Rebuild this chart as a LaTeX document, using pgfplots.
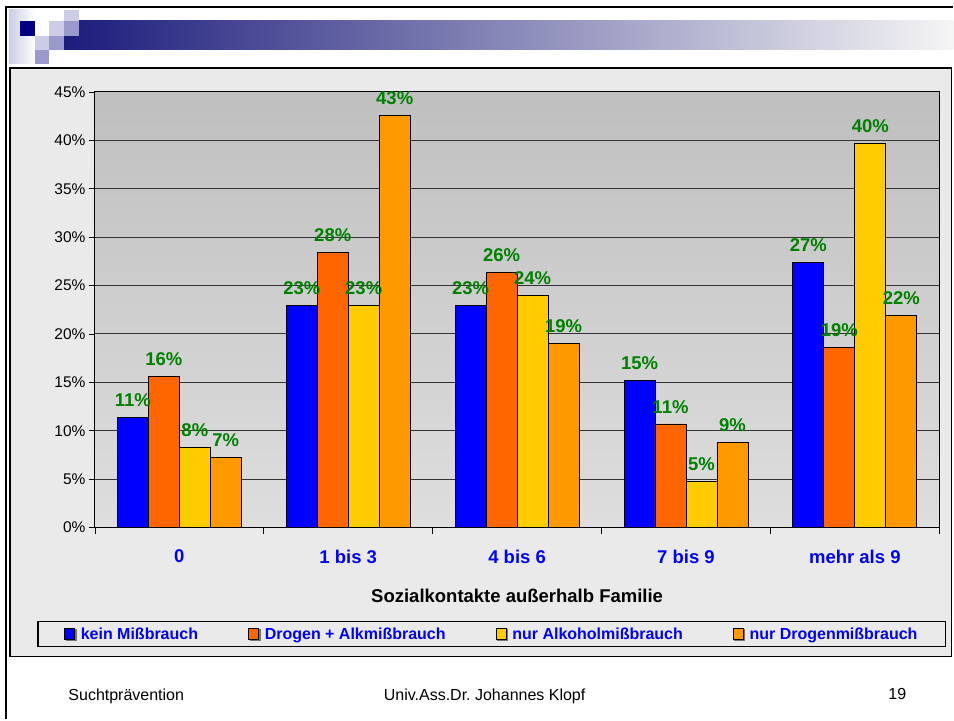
\documentclass[border=0pt]{standalone}
\usepackage{pgfplots}
\pgfplotsset{compat=1.18}
\usepackage{fontspec}
\setmainfont{Liberation Sans}
\frenchspacing
\definecolor{cBlue}{HTML}{0000FF}
\definecolor{cOrange}{HTML}{FF6600}
\definecolor{cYellow}{HTML}{FFCC00}
\definecolor{cDOrange}{HTML}{FF9900}
\definecolor{cGreen}{HTML}{008000}
\definecolor{navy}{HTML}{000080}
\definecolor{lav}{HTML}{CCCCE6}
\definecolor{midlav}{HTML}{9999CC}
\definecolor{bannerL}{HTML}{1C1C7C}
\definecolor{tex}{HTML}{EAEAEA}
\begin{document}
\begin{tikzpicture}
% page
\fill[white] (0pt,0pt) rectangle (954pt,720pt);
% banner
\shade[left color=bannerL, right color=white!96!black] (64pt,670pt) rectangle (954pt,699pt);
\shade[left color=lav, right color=white] (9pt,656pt) rectangle (35pt,710pt);
\fill[lav] (64pt,699pt) rectangle (79pt,710pt);
\fill[navy] (20pt,684pt) rectangle (35pt,699pt);
\fill[lav] (49pt,684pt) rectangle (64pt,699pt);
\fill[midlav] (64pt,684pt) rectangle (79pt,699pt);
\fill[lav] (35pt,670pt) rectangle (49pt,684pt);
\fill[midlav] (49pt,670pt) rectangle (64pt,684pt);
\fill[midlav] (35pt,656pt) rectangle (49pt,670pt);
\draw[black, line width=1.5pt] (6pt,0pt) -- (6pt,713pt) -- (954pt,713pt);
% chart frame
\filldraw[fill=tex, draw=black, line width=1.5pt] (10pt,63pt) rectangle (952pt,652pt);
\begin{axis}[
  at={(95pt,192pt)}, anchor=south west,
  width=845pt, height=436pt, scale only axis,
  ybar=0pt, bar width=31pt,
  xmin=-0.5, xmax=4.5, ymin=0, ymax=45,
  xtick pos=left, ytick pos=left,
  xtick={0,1,2,3,4},
  xticklabels={0,1 bis 3,4 bis 6,7 bis 9,mehr als 9},
  x tick style={draw=none},
  extra x ticks={-0.5,0.5,1.5,2.5,3.5,4.5},
  extra x tick labels={},
  extra x tick style={x tick style={draw=black, line width=0.8pt}, major tick length=6pt, tick align=outside, grid=none},
  xticklabel style={font=\fontsize{18.5}{20}\selectfont\bfseries, text=cBlue, anchor=center, yshift=-23pt},
  ytick={0,5,...,45},
  yticklabel={\pgfmathprintnumber{\tick}\%},
  yticklabel style={font=\fontsize{15.5}{17}\selectfont, /pgf/number format/assume math mode=true},
  y tick style={draw=black, line width=0.8pt},
  tick align=outside, major tick length=6pt,
  ymajorgrids, grid style={black!80, line width=1pt},
  axis line style={black, line width=1pt},
  axis background/.style={top color=black!25, bottom color=black!13},
  xlabel={Sozialkontakte außerhalb Familie},
  xlabel style={font=\fontsize{18.5}{20}\selectfont\bfseries, at={(0.5,0)}, anchor=center, yshift=-68pt},
  nodes near coords={\pgfmathprintnumber[fixed,precision=0,assume math mode=true]{\pgfplotspointmeta}\%},
  every node near coord/.append style={font=\fontsize{18.5}{20}\selectfont\bfseries, text=cGreen, anchor=base, inner sep=0pt, yshift=11pt},
  legend columns=4,
  legend style={at={(0.47,-0.245)}, anchor=center, draw=black, line width=1.2pt, fill=tex,
    font=\fontsize{16}{18}\selectfont\bfseries, text=cBlue, inner xsep=26pt, inner ysep=4pt,
    /tikz/every odd column/.append style={column sep=0pt},
    /tikz/every even column/.append style={column sep=48pt}},
  legend image code/.code={\path (0pt,0pt) (14pt,0pt); \fill[black!55] (1.5pt,-6.5pt) rectangle (11.5pt,4.5pt); \draw[#1, line width=0.6pt] (0pt,-5pt) rectangle (10pt,6pt);},
]
\addplot[fill=cBlue, draw=black, line width=0.8pt] coordinates {(0,11.4) (1,22.9) (2,22.9) (3,15.2) (4,27.4)};
\addplot[fill=cOrange, draw=black, line width=0.8pt] coordinates {(0,15.6) (1,28.4) (2,26.4) (3,10.7) (4,18.6)};
\addplot[fill=cYellow, draw=black, line width=0.8pt] coordinates {(0,8.3) (1,22.9) (2,24.0) (3,4.8) (4,39.7)};
\addplot[fill=cDOrange, draw=black, line width=0.8pt] coordinates {(0,7.2) (1,42.6) (2,19.0) (3,8.8) (4,21.9)};
\legend{kein Mißbrauch, Drogen + Alkmißbrauch, nur Alkoholmißbrauch, nur Drogenmißbrauch}
\end{axis}
% footer
\node[font=\fontsize{16}{18}\selectfont, anchor=west] at (65pt,23pt) {Suchtprävention};
\node[font=\fontsize{16}{18}\selectfont] at (485pt,23pt) {Univ.Ass.Dr. Johannes Klopf};
\node[font=\fontsize{16}{18}\selectfont] at (898pt,25pt) {19};
\end{tikzpicture}
\end{document}
